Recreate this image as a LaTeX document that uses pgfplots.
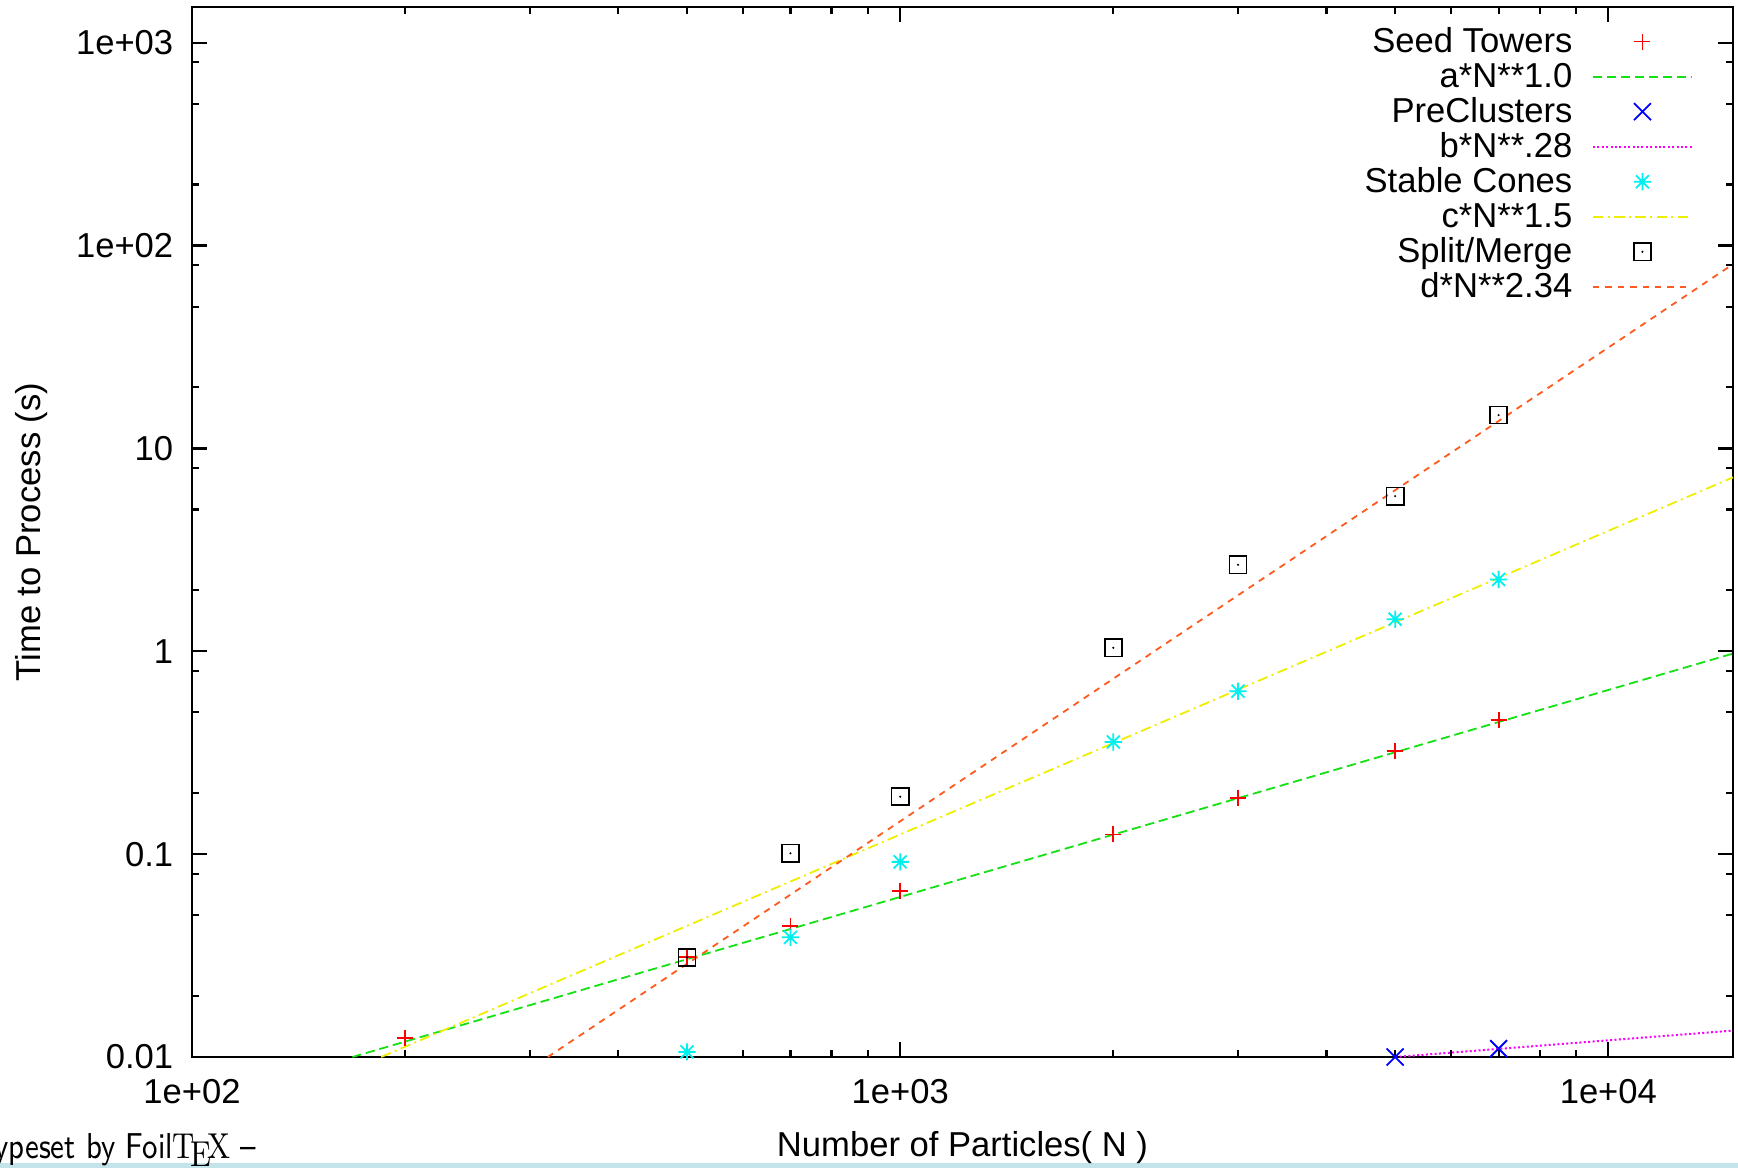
\documentclass[border=0pt]{standalone}
\usepackage{fontspec}
\usepackage{graphicx}
\usepackage{pgfplots}
\pgfplotsset{compat=1.18}
\newfontfamily\gfont{Liberation Sans}
\definecolor{gpred}{rgb}{1,0,0}
\definecolor{gpgreen}{RGB}{20,225,20}
\definecolor{gpblue}{rgb}{0,0,1}
\definecolor{gpmagenta}{RGB}{250,0,250}
\definecolor{gpcyan}{RGB}{0,240,240}
\definecolor{gpyellow}{RGB}{238,238,0}
\definecolor{gporange}{RGB}{255,90,30}
\definecolor{barblue}{RGB}{196,228,236}
\pgfdeclareplotmark{gpstar}{%
 \pgfpathmoveto{\pgfqpoint{-\pgfplotmarksize}{0pt}}\pgfpathlineto{\pgfqpoint{\pgfplotmarksize}{0pt}}%
 \pgfpathmoveto{\pgfqpoint{0pt}{-\pgfplotmarksize}}\pgfpathlineto{\pgfqpoint{0pt}{\pgfplotmarksize}}%
 \pgfpathmoveto{\pgfqpoint{-.75\pgfplotmarksize}{-.75\pgfplotmarksize}}\pgfpathlineto{\pgfqpoint{.75\pgfplotmarksize}{.75\pgfplotmarksize}}%
 \pgfpathmoveto{\pgfqpoint{-.75\pgfplotmarksize}{.75\pgfplotmarksize}}\pgfpathlineto{\pgfqpoint{.75\pgfplotmarksize}{-.75\pgfplotmarksize}}%
 \pgfusepathqstroke}
\pgfdeclareplotmark{gpbox}{%
 \pgfpathrectangle{\pgfqpoint{-\pgfplotmarksize}{-\pgfplotmarksize}}{\pgfqpoint{2\pgfplotmarksize}{2\pgfplotmarksize}}\pgfusepathqstroke
 \pgfpathcircle{\pgfpointorigin}{0.3pt}\pgfusepathqfill}
\begin{document}
\begin{tikzpicture}
\useasboundingbox (0,0) rectangle (434.5pt,292pt);
\fill[barblue] (0,0) rectangle (434.5pt,1.25pt);
\node[anchor=base east, inner sep=0pt] at (64.25pt,2.25pt) {\scalebox{0.835}[1]{\fontsize{9}{11}\selectfont\sffamily Typeset by Foil{\rmfamily\TeX} --}};
\begin{axis}[
  at={(48pt,27.75pt)}, anchor=south west,
  scale only axis, width=385.25pt, height=262.5pt,
  xmode=log, ymode=log,
  xmin=100, xmax=15000, ymin=0.01, ymax=1500,
  clip=false,
  xtick={100,1000,10000},
  xticklabels={1e+02,1e+03,1e+04},
  minor xtick={200,300,400,500,600,700,800,900,2000,3000,4000,5000,6000,7000,8000,9000},
  ytick={0.01,0.1,1,10,100,1000},
  yticklabels={0.01,0.1,1,10,1e+02,1e+03},
  minor ytick={0.02,0.05,0.08,0.2,0.5,0.8,2,5,8,20,50,80,200,500,800},
  tick align=inside,
  major tick length=3.75pt, minor tick length=1.8pt,
  every tick/.style={black, line width=0.55pt},
  axis line style={line width=0.7pt},
  tick label style={font=\gfont\fontsize{8.65}{10}\selectfont},
  xticklabel style={anchor=base, yshift=-11.5pt, inner sep=0pt},
  yticklabel style={anchor=east, inner sep=0pt, xshift=-4.5pt},
  every axis x label/.style={at={(axis description cs:0.5,-0.0952)}, anchor=base, font=\gfont\fontsize{8.65}{10}\selectfont},
  every axis y label/.style={at={(axis description cs:-0.0986,0.5)}, rotate=90, anchor=base, font=\gfont\fontsize{8.65}{10}\selectfont},
  xlabel={Number of Particles( N )},
  ylabel={Time to Process (s)},
  legend plot pos=right,
  legend cell align=right,
  legend image code/.code={\draw[mark repeat=2,mark phase=2,#1] plot coordinates {(0pt,0pt) (12.375pt,0pt) (24.75pt,0pt)};},
  legend style={draw=none, fill=none, at={(axis description cs:0.9745,0.9845)}, anchor=north east,
    inner xsep=0pt, inner ysep=0pt, column sep=4.9pt, row sep=0pt,
    nodes={inner sep=0pt, text height=7.08pt, text depth=1.68pt, font=\gfont\fontsize{8.65}{10}\selectfont}},
]
% Seed Towers
\addplot[only marks, color=gpred, mark=+, mark size=2pt, line width=0.45pt] coordinates {
 (200,0.0124) (500,0.031) (700,0.0441) (1000,0.066) (2000,0.125) (3000,0.190) (5000,0.322) (7000,0.458)};
\addlegendentry{Seed Towers}
\addplot[color=gpgreen, line width=0.45pt, dash pattern=on 2.3pt off 1.2pt] coordinates {(168.5,0.01) (15000,0.975)};
\addlegendentry{a*N**1.0}
% PreClusters
\addplot[only marks, color=gpblue, mark=x, mark size=3pt, line width=0.45pt] coordinates {(5000,0.0100) (7000,0.0110)};
\addlegendentry{PreClusters}
\addplot[color=gpmagenta, line width=0.5pt, dash pattern=on 0.5pt off 0.6pt] coordinates {(5000,0.01) (15000,0.0135)};
\addlegendentry{b*N**.28}
% Stable Cones
\addplot[only marks, color=gpcyan, mark=gpstar, mark size=2.15pt, line width=0.45pt] coordinates {
 (500,0.0106) (700,0.0389) (1000,0.0916) (2000,0.357) (3000,0.636) (5000,1.44) (7000,2.26)};
\addlegendentry{Stable Cones}
\addplot[color=gpyellow, line width=0.45pt, dash pattern=on 2.6pt off 1.1pt on 0.5pt off 1.1pt] coordinates {(185,0.01) (15000,7.2)};
\addlegendentry{c*N**1.5}
% Split/Merge
\addplot[only marks, color=black, mark=gpbox, mark size=2.15pt, line width=0.4pt] coordinates {
 (500,0.031) (700,0.101) (1000,0.192) (2000,1.04) (3000,2.67) (5000,5.82) (7000,14.6)};
\addlegendentry{Split/Merge}
\addplot[color=gporange, line width=0.45pt, dash pattern=on 1.6pt off 1.5pt] coordinates {(318,0.01) (15000,81)};
\addlegendentry{d*N**2.34}
\end{axis}
\end{tikzpicture}
\end{document}
